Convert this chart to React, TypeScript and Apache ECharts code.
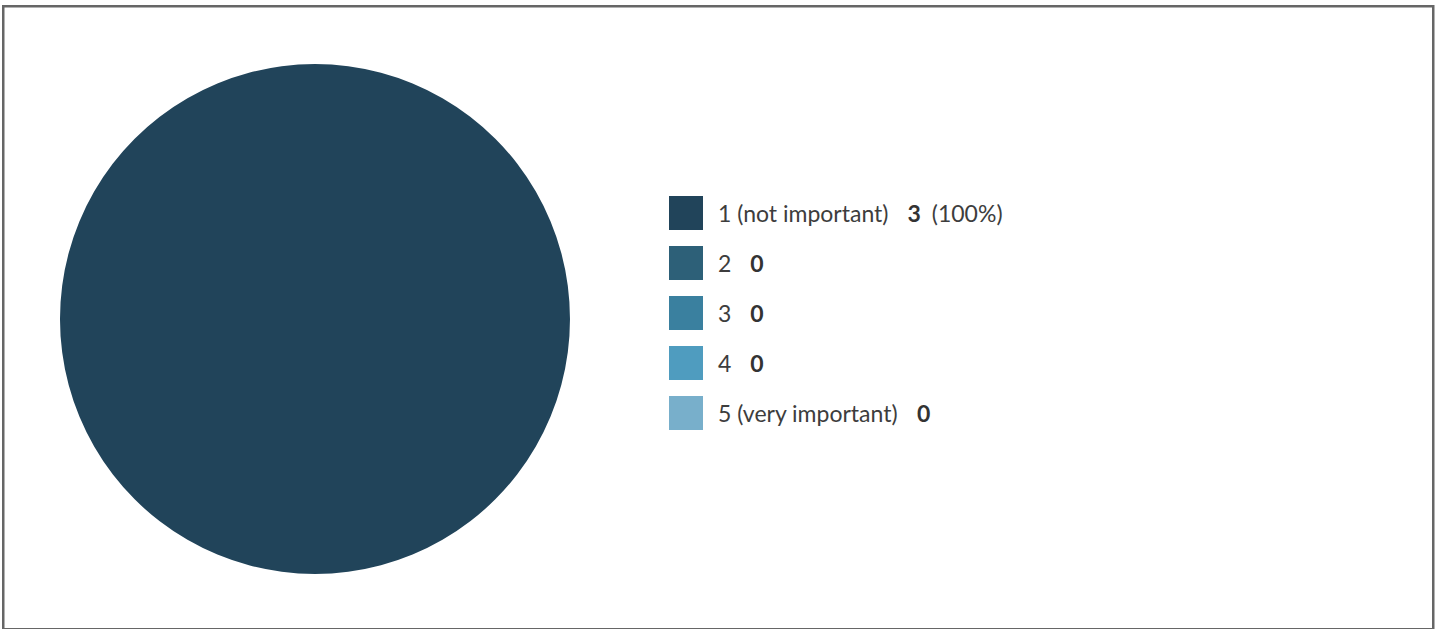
import React, { useEffect, useRef } from "react";
import * as echarts from "echarts";

const categories = ["1 (not important)", "2", "3", "4", "5 (very important)"];
const counts = [3, 0, 0, 0, 0];
const colors = ["#21445a", "#2d6078", "#3a809f", "#4f9cbf", "#78afcb"];

export default function App() {
  const ref = useRef<HTMLDivElement>(null);
  useEffect(() => {
    if (!ref.current) return;
    const chart = echarts.init(ref.current, undefined, { renderer: "svg" });
    const total = counts.reduce((a, b) => a + b, 0);
    chart.setOption({
      animation: false,
      color: colors,
      graphic: [
        {
          type: "rect",
          shape: { x: 3.25, y: 6.25, width: 1430, height: 623 },
          style: { fill: "none", stroke: "#666", lineWidth: 2.5 },
          silent: true,
        },
      ],
      legend: {
        orient: "vertical",
        left: 664,
        top: 191,
        itemWidth: 34,
        itemHeight: 34,
        itemGap: 16,
        icon: "rect",
        selectedMode: false,
        data: categories,
        formatter: (name: string) => {
          const i = categories.indexOf(name);
          const v = counts[i];
          let s = `{n|${name}}{v|${v}}`;
          if (v > 0) s += `{p|(${Math.round((v / total) * 100)}%)}`;
          return s;
        },
        textStyle: {
          fontFamily: "Lato",
          fontSize: 23,
          color: "#3d3d3d",
          padding: [0, 0, 0, 10],
          rich: {
            n: { fontFamily: "Lato", fontSize: 23, color: "#3d3d3d" },
            v: {
              fontFamily: "Lato",
              fontSize: 23,
              fontWeight: "bold",
              color: "#333",
              padding: [0, 0, 0, 19],
            },
            p: {
              fontFamily: "Lato",
              fontSize: 23,
              color: "#3d3d3d",
              padding: [0, 0, 0, 11],
            },
          },
        },
      },
      series: [
        {
          type: "pie",
          center: [315, 319],
          radius: [0, 255],
          label: { show: false },
          labelLine: { show: false },
          silent: true,
          data: categories.map((c, i) => ({ name: c, value: counts[i] })),
        },
      ],
    });
    return () => chart.dispose();
  }, []);
  return (
    <div
      ref={ref}
      style={{ position: "fixed", left: 0, top: 0, width: 1437, height: 629, background: "#fff" }}
    />
  );
}
